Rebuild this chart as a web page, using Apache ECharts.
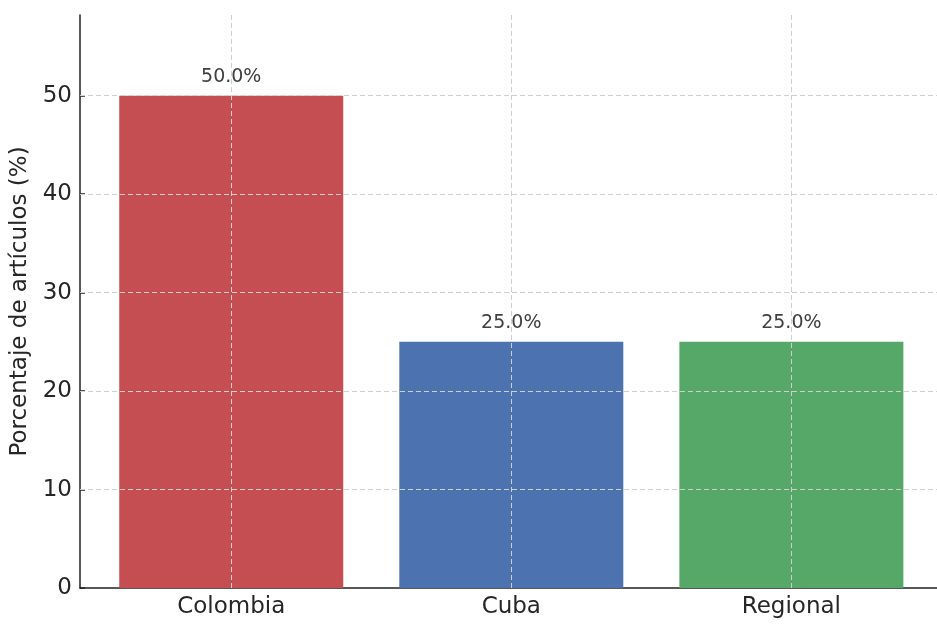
<!DOCTYPE html>
<html>
<head>
<meta charset="utf-8">
<script src="https://cdn.jsdelivr.net/npm/echarts@6/dist/echarts.min.js"></script>
<style>html,body{margin:0;padding:0;background:#fff}#c{width:937px;height:625px}</style>
</head>
<body>
<div id="c"></div>
<script>
const categories = ['Colombia', 'Cuba', 'Regional'];
const values = [50.0, 25.0, 25.0];
const barColors = ['#C44E52', '#4C72B0', '#55A868'];
const yTicks = [0, 10, 20, 30, 40, 50];
const yGridLines = [10, 20, 30, 40, 50];
const xPositions = [0, 1, 2];
const yTitle = 'Porcentaje de artículos (%)';

const FONT = 'DejaVu Sans';
const gridStyle = { color: '#cfcfcf', width: 1, type: [5, 3] };

const chart = echarts.init(document.getElementById('c'), null, { renderer: 'canvas' });
chart.setOption({
  animation: false,
  backgroundColor: '#fff',
  grid: { left: 80, right: 0, top: 15, bottom: 37, containLabel: false, outerBoundsMode: 'none' },
  xAxis: {
    type: 'value',
    min: -0.54,
    max: 2.52,
    splitLine: { show: false },
    axisLine: { show: true, onZero: false, lineStyle: { color: '#222', width: 1.5 } },
    axisTick: { show: true, inside: true, length: 5, customValues: xPositions, lineStyle: { color: '#222', width: 1.5 } },
    axisLabel: {
      customValues: xPositions,
      formatter: v => categories[Math.round(v)] || '',
      fontFamily: FONT, fontSize: 23, color: '#262626', margin: 8
    }
  },
  yAxis: {
    type: 'value',
    min: 0,
    max: 58.2,
    name: yTitle,
    nameLocation: 'middle',
    nameGap: 45,
    nameTextStyle: { fontFamily: FONT, fontSize: 23, color: '#262626' },
    splitLine: { show: false },
    axisLine: { show: true, onZero: false, lineStyle: { color: '#222', width: 1.5 } },
    axisTick: { show: true, inside: true, length: 5, customValues: yTicks, lineStyle: { color: '#222', width: 1.5 } },
    axisLabel: {
      customValues: yTicks,
      fontFamily: FONT, fontSize: 23, color: '#262626', margin: 8
    }
  },
  series: [{
    type: 'bar',
    barWidth: 224,
    data: values.map((v, i) => ({ value: [xPositions[i], v], itemStyle: { color: barColors[i] } })),
    label: {
      show: true,
      position: 'top',
      distance: 9,
      formatter: p => p.value[1].toFixed(1) + '%',
      fontFamily: FONT, fontSize: 19, color: '#404040'
    },
    markLine: {
      silent: true,
      symbol: 'none',
      label: { show: false },
      lineStyle: gridStyle,
      emphasis: { disabled: true },
      data: xPositions.map(x => ({ xAxis: x })).concat(yGridLines.map(y => ({ yAxis: y })))
    }
  }]
});
</script>
</body>
</html>
